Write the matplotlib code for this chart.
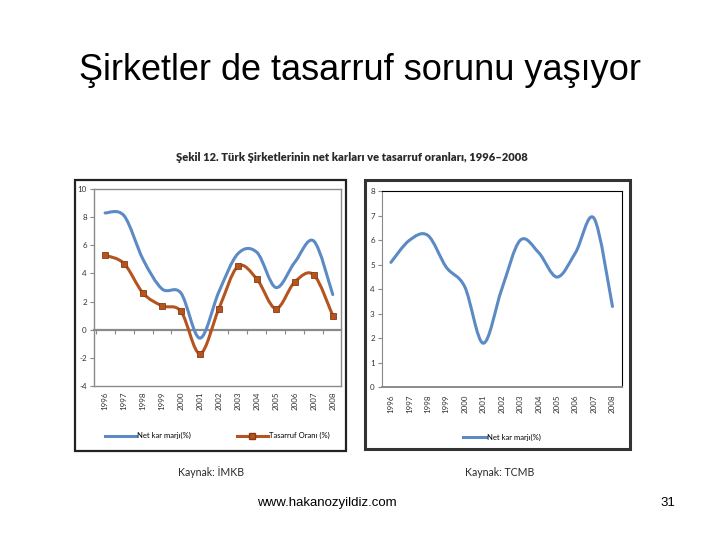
import numpy as np
import matplotlib
matplotlib.use("Agg")
import matplotlib.pyplot as plt
from matplotlib.path import Path
from matplotlib.patches import PathPatch, Rectangle
from matplotlib.lines import Line2D

# Data
years = ['1996', '1997', '1998', '1999', '2000', '2001', '2002',
         '2003', '2004', '2005', '2006', '2007', '2008']
net_kar_imkb = [8.3, 8.1, 5.0, 2.9, 2.6, -0.6, 2.7, 5.4, 5.5, 3.0, 4.8, 6.3, 2.5]
tasarruf_orani = [5.3, 4.7, 2.6, 1.7, 1.3, -1.7, 1.5, 4.5, 3.6, 1.5, 3.4, 3.9, 1.0]
net_kar_tcmb = [5.1, 6.0, 6.2, 4.9, 4.1, 1.8, 4.0, 6.0, 5.5, 4.5, 5.5, 6.9, 3.3]

BLUE = '#5b8ac4'
ORANGE = '#b5541f'
GRAY = '#8a8a8a'
COND = ['Lato', 'DejaVu Sans']


def smooth_path(x, y):
    # Excel-style smoothed line: cubic bezier segments through each point
    x = np.asarray(x, float)
    y = np.asarray(y, float)
    px = np.r_[x[0], x, x[-1]]
    py = np.r_[y[0], y, y[-1]]
    verts = [(x[0], y[0])]
    codes = [Path.MOVETO]
    for i in range(1, len(x)):
        c1 = (px[i] + (px[i + 1] - px[i - 1]) / 6, py[i] + (py[i + 1] - py[i - 1]) / 6)
        c2 = (px[i + 1] - (px[i + 2] - px[i]) / 6, py[i + 1] - (py[i + 2] - py[i]) / 6)
        verts += [c1, c2, (x[i], y[i])]
        codes += [Path.CURVE4] * 3
    return Path(verts, codes)


def add_line(ax, y, color, label):
    xs = np.arange(len(y))
    ax.add_patch(PathPatch(smooth_path(xs, y), fill=False, edgecolor=color, lw=2.2,
                           capstyle='round', joinstyle='round', zorder=3))
    return Line2D([], [], color=color, lw=2.2, label=label)


fig = plt.figure(figsize=(7.2, 5.4), dpi=100)
fig.patch.set_facecolor('white')

fig.text(0.5, 1 - 70 / 540, 'Şirketler de tasarruf sorunu yaşıyor', ha='center', va='center',
         fontsize=26, family='Liberation Sans')
fig.text(352 / 720, 1 - 158 / 540,
         'Şekil 12. Türk Şirketlerinin net karları ve tasarruf oranları, 1996–2008',
         ha='center', va='center', fontsize=8.0, fontweight='heavy', family=COND, color='#2a2a2a')

# outer frames of the two pasted charts
fig.add_artist(Rectangle((74.5 / 720, 1 - 451 / 540), 271.5 / 720, 271 / 540,
                         transform=fig.transFigure, fill=False, edgecolor='#222222', lw=1.6))
fig.add_artist(Rectangle((365.3 / 720, 1 - 449 / 540), 264.7 / 720, 269 / 540,
                         transform=fig.transFigure, fill=False, edgecolor='#333333', lw=2.2))

tick_kw = dict(labelsize=5.8, colors='#333333')

# ---- left chart (IMKB) ----
ax1 = fig.add_axes([93.7 / 720, 1 - 386 / 540, 247.6 / 720, 197 / 540])
h1 = add_line(ax1, net_kar_imkb, BLUE, 'Net kar marjı(%)')
add_line(ax1, tasarruf_orani, ORANGE, 'Tasarruf Oranı (%)')
ax1.plot(range(len(years)), tasarruf_orani, linestyle='none', marker='s', ms=4,
         mfc=ORANGE, mec='#8a3a12', mew=0.6, zorder=4)
h2 = Line2D([], [], color=ORANGE, lw=2.2, marker='s', ms=4, mfc=ORANGE, mec='#8a3a12',
            label='Tasarruf Oranı (%)')
ax1.set_xlim(-0.6, 12.45)
ax1.set_ylim(-4, 10)
ax1.set_yticks(range(-4, 11, 2))
ax1.set_yticklabels([str(v) for v in range(-4, 11, 2)], family=COND)
ax1.set_xticks(range(len(years)))
ax1.set_xticklabels(years, rotation=90, family=COND)
ax1.tick_params(axis='x', length=0, pad=4, **tick_kw)
ax1.tick_params(axis='y', length=3, color=GRAY, pad=2, **tick_kw)
for s in ax1.spines.values():
    s.set_color(GRAY)
    s.set_linewidth(1.0)
zero_ax = ax1.secondary_xaxis(4 / 14)
zero_ax.set_xticks(np.arange(-0.5, 12.6, 1))
zero_ax.tick_params(length=3, color=GRAY, labelbottom=False, labelsize=0)
zero_ax.spines['bottom'].set_color(GRAY)
zero_ax.spines['bottom'].set_linewidth(1.6)
ax1.legend(handles=[h1, h2], loc='upper center', bbox_to_anchor=(0.5, -0.2), ncol=2,
           frameon=False, prop={'family': COND, 'size': 5.5}, handlelength=4,
           columnspacing=6, handletextpad=0.2)

# ---- right chart (TCMB) ----
ax2 = fig.add_axes([381.7 / 720, 1 - 387.3 / 540, 240 / 720, 196 / 540])
h3 = add_line(ax2, net_kar_tcmb, BLUE, 'Net kar marjı(%)')
ax2.set_xlim(-0.5, 12.5)
ax2.set_ylim(0, 8)
ax2.set_yticks(range(0, 9))
ax2.set_yticklabels([str(v) for v in range(0, 9)], family=COND)
ax2.set_xticks(range(len(years)))
ax2.set_xticklabels(years, rotation=90, family=COND)
ax2.tick_params(axis='x', length=0, pad=5, **tick_kw)
ax2.tick_params(axis='y', length=3, color=GRAY, pad=2, **tick_kw)
ax2.spines['left'].set_color(GRAY)
ax2.spines['bottom'].set_color(GRAY)
ax2.spines['bottom'].set_linewidth(1.4)
ax2.spines['top'].set_color('black')
ax2.spines['right'].set_color('black')
ax2.legend(handles=[h3], loc='upper center', bbox_to_anchor=(0.5, -0.2),
           frameon=False, prop={'family': COND, 'size': 5.5}, handlelength=3,
           handletextpad=0.1)

fig.text(178 / 720, 1 - 472 / 540, 'Kaynak: İMKB', ha='left', va='center',
         fontsize=7.6, family=COND, color='#2a2a2a')
fig.text(465 / 720, 1 - 472 / 540, 'Kaynak: TCMB', ha='left', va='center',
         fontsize=7.6, family=COND, color='#2a2a2a')
fig.text(327 / 720, 1 - 503 / 540, 'www.hakanozyildiz.com', ha='center', va='center',
         fontsize=9.5, family='Liberation Sans')
fig.text(668 / 720, 1 - 503 / 540, '31', ha='center', va='center',
         fontsize=9.5, family='Liberation Sans')

fig.savefig('out.png', dpi=100, facecolor='white')
